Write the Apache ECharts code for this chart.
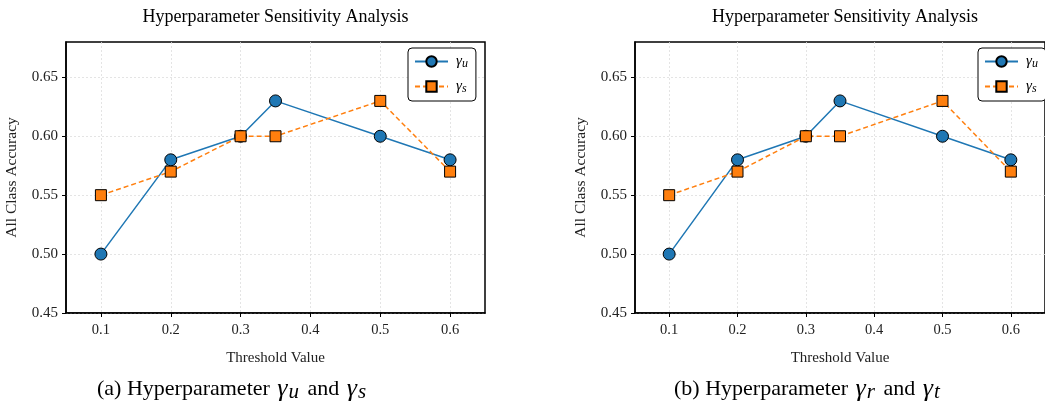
<!DOCTYPE html>
<html>
<head>
<meta charset="utf-8">
<script src="https://cdn.jsdelivr.net/npm/echarts@6/dist/echarts.min.js"></script>
<style>
html, body { margin: 0; padding: 0; background: #ffffff; }
#container { width: 1045px; height: 409px; }
</style>
</head>
<body>
<div id="container"></div>
<script type="text/javascript">
// threshold values on the x axis
var thresholds = [0.1, 0.2, 0.3, 0.35, 0.5, 0.6];
// accuracy for each hyperparameter
var gammaU = [0.50, 0.58, 0.60, 0.63, 0.60, 0.58];
var gammaS = [0.55, 0.57, 0.60, 0.60, 0.63, 0.57];
var xTicks = [0.1, 0.2, 0.3, 0.4, 0.5, 0.6];
var yTicks = [0.45, 0.50, 0.55, 0.60, 0.65];

var serif = '"Liberation Serif", "DejaVu Serif", serif';
var blue = '#1f77b4';
var orange = '#ff7f0e';

function pairs(ys) {
    return thresholds.map(function (x, i) { return [x, ys[i]]; });
}

var mathRich = {
    g: { fontFamily: serif, fontStyle: 'italic', fontSize: 15, color: '#000' },
    s: { fontFamily: serif, fontStyle: 'italic', fontSize: 12, color: '#000', padding: [5, 0, 0, 0] }
};
var capRich = {
    g: { fontFamily: serif, fontStyle: 'italic', fontSize: 26, color: '#000', padding: [0, 1, 0, 2] },
    s: { fontFamily: serif, fontStyle: 'italic', fontSize: 21, color: '#000', padding: [7, 3, 0, 0] }
};

var panels = [
    { left: 66, width: 419, caption: '(a) Hyperparameter {g|γ}{s|u} and {g|γ}{s|s}', capLeft: 97 },
    { left: 635, width: 420, caption: '(b) Hyperparameter {g|γ}{s|r} and {g|γ}{s|t}', capLeft: 674 }
];

var grids = [], xAxes = [], yAxes = [], series = [], legends = [], graphics = [];

panels.forEach(function (p, k) {
    grids.push({
        left: p.left, top: 42, width: p.width, height: 271,
        show: true, borderColor: '#000', borderWidth: 1.5
    });
    xAxes.push({
        type: 'value', gridIndex: k, min: 0.05, max: 0.65,
        name: 'Threshold Value', nameLocation: 'middle', nameGap: 38,
        nameTextStyle: { fontFamily: serif, fontSize: 15, color: '#222' },
        axisLine: { show: true, onZero: false, lineStyle: { color: '#000', width: 1.5 } },
        axisTick: { show: true, length: 4, customValues: xTicks, lineStyle: { color: '#000' } },
        axisLabel: {
            customValues: xTicks, margin: 10,
            fontFamily: serif, fontSize: 14.5, color: '#222',
            formatter: function (v) { return v.toFixed(1); }
        },
        splitLine: { show: true, lineStyle: { color: '#dddddd', type: [2, 2], width: 0.8 } }
    });
    yAxes.push({
        type: 'value', gridIndex: k, min: 0.45, max: 0.68,
        name: 'All Class Accuracy', nameLocation: 'middle', nameGap: 46,
        nameTextStyle: { fontFamily: serif, fontSize: 15.5, color: '#222' },
        axisLine: { show: true, onZero: false, lineStyle: { color: '#000', width: 1.5 } },
        axisTick: { show: true, length: 4, customValues: yTicks, lineStyle: { color: '#000' } },
        axisLabel: {
            customValues: yTicks, margin: 8,
            fontFamily: serif, fontSize: 15, color: '#222',
            formatter: function (v) { return v.toFixed(2); }
        },
        splitLine: { show: true, lineStyle: { color: '#dddddd', type: [2, 2], width: 0.8 } }
    });
    series.push({
        name: 'gu', type: 'line', xAxisIndex: k, yAxisIndex: k,
        data: pairs(gammaU),
        symbol: 'circle', symbolSize: 12,
        lineStyle: { color: blue, width: 1.5 },
        itemStyle: { color: blue, borderColor: '#000', borderWidth: 1 }
    });
    series.push({
        name: 'gs', type: 'line', xAxisIndex: k, yAxisIndex: k,
        data: pairs(gammaS),
        symbol: 'rect', symbolSize: 11,
        lineStyle: { color: orange, width: 1.5, type: [5, 3] },
        itemStyle: { color: orange, borderColor: '#000', borderWidth: 1 }
    });
    legends.push({
        data: ['gu', 'gs'], orient: 'vertical',
        left: p.left + p.width - 77, top: 48,
        padding: [6, 8, 6, 6], itemGap: 9, itemWidth: 33, itemHeight: 13,
        borderColor: '#000', borderWidth: 1, borderRadius: 4,
        backgroundColor: '#fff',
        selectedMode: false,
        textStyle: { rich: mathRich, padding: [0, 0, 0, 3] },
        formatter: function (n) { return n === 'gu' ? '{g|γ}{s|u}' : '{g|γ}{s|s}'; }
    });
    graphics.push({
        type: 'text', x: p.left + p.width / 2, y: 8,
        style: { text: 'Hyperparameter Sensitivity Analysis', font: '18px ' + serif, fill: '#000', align: 'center' }
    });
    graphics.push({
        type: 'text', left: p.capLeft, top: 376,
        style: {
            text: p.caption, fill: '#000',
            fontFamily: serif, fontSize: 22,
            rich: capRich
        }
    });
});

var myChart = echarts.init(document.getElementById('container'));
var option = {
    animation: false,
    backgroundColor: '#fff',
    grid: grids,
    xAxis: xAxes,
    yAxis: yAxes,
    legend: legends,
    series: series,
    graphic: graphics
};
myChart.setOption(option);
</script>
</body>
</html>
